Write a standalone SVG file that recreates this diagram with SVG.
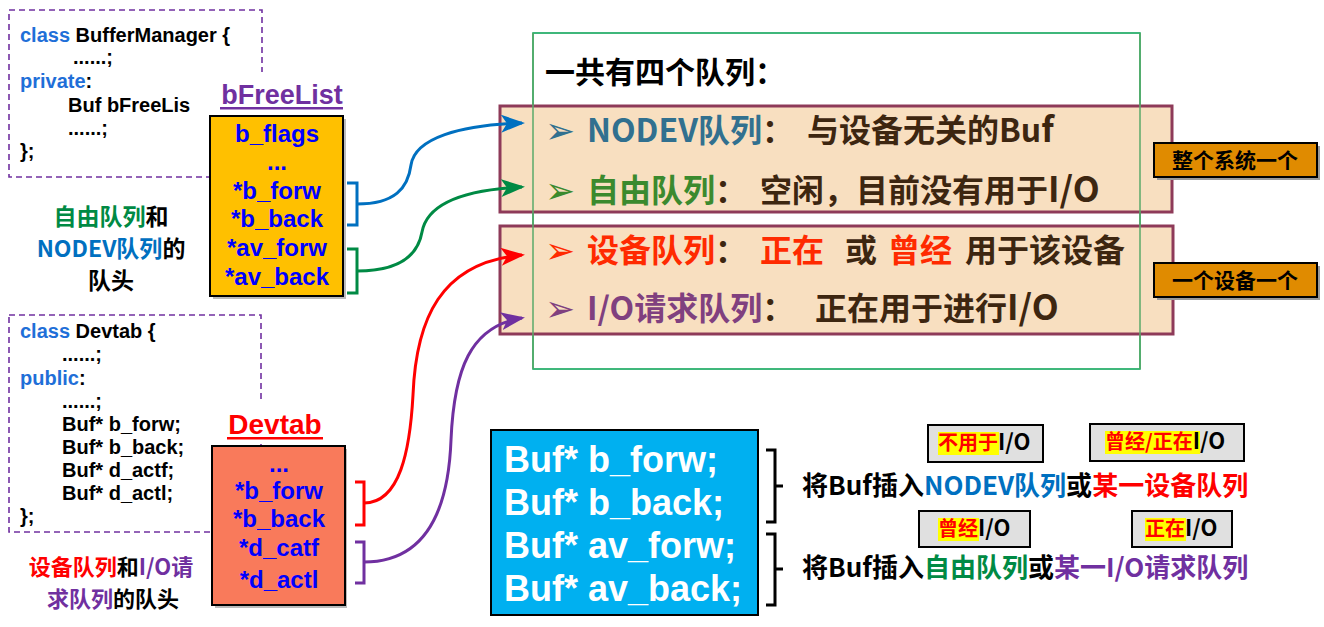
<svg xmlns="http://www.w3.org/2000/svg" width="1324" height="627" viewBox="0 0 1324 627">
<style>
.code{font-family:"Liberation Sans",Arial,sans-serif;font-weight:bold;font-size:20px;fill:#000}
.kw{fill:#1F6FD8}
.field{font-family:"Liberation Sans",Arial,sans-serif;font-weight:bold;font-size:24px;fill:#0000FF;text-anchor:middle}
.cjk{font-family:"Noto Sans CJK SC",sans-serif;font-weight:bold}
.dash{fill:none;stroke:#7030A0;stroke-width:1.6;stroke-dasharray:6 4}
.tan{fill:#F8DFC0;stroke:#8E3A59;stroke-width:3}
.bullet{font-family:"DejaVu Sans",sans-serif;font-size:36px;font-weight:normal}
.lab{fill:#E08B00;stroke:#000;stroke-width:2}
.gray{fill:#E0E0E0;stroke:#000;stroke-width:2}
.hl{fill:#FFFF00}
.conn{fill:none;stroke-width:3}
.br{fill:none;stroke-width:3}
</style>
<defs>
<marker id="ab" markerWidth="8" markerHeight="6" refX="7" refY="3" orient="auto" markerUnits="strokeWidth"><path d="M0,0 L8,3 L0,6 L2,3 Z" fill="#0070C0"/></marker>
<marker id="ag" markerWidth="8" markerHeight="6" refX="7" refY="3" orient="auto" markerUnits="strokeWidth"><path d="M0,0 L8,3 L0,6 L2,3 Z" fill="#008A44"/></marker>
<marker id="ar" markerWidth="8" markerHeight="6" refX="7" refY="3" orient="auto" markerUnits="strokeWidth"><path d="M0,0 L8,3 L0,6 L2,3 Z" fill="#FF0000"/></marker>
<marker id="ap" markerWidth="8" markerHeight="6" refX="7" refY="3" orient="auto" markerUnits="strokeWidth"><path d="M0,0 L8,3 L0,6 L2,3 Z" fill="#7030A0"/></marker>
</defs>
<rect width="1324" height="627" fill="#fff"/>

<g id="buffermanager-code">
<rect class="dash" x="9" y="10" width="253" height="167"/>
<text class="code" x="20" y="42"><tspan class="kw">class</tspan> BufferManager {</text>
<text class="code" x="73" y="64">......;</text>
<text class="code" x="20" y="88"><tspan class="kw">private</tspan>:</text>
<text class="code" x="68" y="112">Buf bFreeLis</text>
<text class="code" x="68" y="135">......;</text>
<text class="code" x="20" y="158">};</text>
</g>

<g id="bfreelist">
<rect x="214" y="72" width="136" height="42" fill="#fff"/>
<text x="282" y="104" text-anchor="middle" font-family="Liberation Sans,Arial,sans-serif" font-weight="bold" font-size="27" fill="#7030A0">bFreeList</text>
<rect x="220" y="107" width="123" height="2.5" fill="#7030A0"/>
<rect x="213" y="119" width="133" height="180" fill="#bbb"/>
<rect x="210" y="116" width="133" height="180" fill="#FFC000" stroke="#000" stroke-width="2"/>
<text class="field" x="277" y="142">b_flags</text>
<text class="field" x="277" y="170">...</text>
<text class="field" x="277" y="199">*b_forw</text>
<text class="field" x="277" y="227">*b_back</text>
<text class="field" x="277" y="256">*av_forw</text>
<text class="field" x="277" y="285">*av_back</text>
</g>

<g id="label-free-head" class="cjk" font-size="23" text-anchor="middle">
<text x="111" y="225"><tspan fill="#008A44">自由队列</tspan><tspan fill="#000">和</tspan></text>
<text x="111" y="257"><tspan fill="#0070C0">NODEV队列</tspan><tspan fill="#000">的</tspan></text>
<text x="111" y="289" fill="#000">队头</text>
</g>

<g id="devtab-code">
<rect class="dash" x="9" y="315" width="252" height="217"/>
<text class="code" x="20" y="338"><tspan class="kw">class</tspan> Devtab {</text>
<text class="code" x="62" y="361">......;</text>
<text class="code" x="20" y="385"><tspan class="kw">public</tspan>:</text>
<text class="code" x="62" y="408">......;</text>
<text class="code" x="62" y="431">Buf* b_forw;</text>
<text class="code" x="62" y="454">Buf* b_back;</text>
<text class="code" x="62" y="477">Buf* d_actf;</text>
<text class="code" x="62" y="500">Buf* d_actl;</text>
<text class="code" x="20" y="523">};</text>
</g>

<g id="devtab">
<rect x="212" y="402" width="136" height="42" fill="#fff"/>
<text x="275" y="434" text-anchor="middle" font-family="Liberation Sans,Arial,sans-serif" font-weight="bold" font-size="28" fill="#FF0000">Devtab</text>
<rect x="227" y="437" width="96" height="2.5" fill="#FF0000"/>
<rect x="215" y="449" width="132" height="159" fill="#bbb"/>
<rect x="212" y="446" width="133" height="159" fill="#F97A5B" stroke="#000" stroke-width="2"/>
<text class="field" x="279" y="472">...</text>
<text class="field" x="279" y="499">*b_forw</text>
<text class="field" x="279" y="527">*b_back</text>
<text class="field" x="279" y="556">*d_catf</text>
<text class="field" x="279" y="588">*d_actl</text>
</g>

<g id="label-dev-head" class="cjk" font-size="22" text-anchor="middle">
<text x="111" y="575"><tspan fill="#FF0000">设备队列</tspan><tspan fill="#000">和</tspan><tspan fill="#7030A0">I/O请</tspan></text>
<text x="113" y="607"><tspan fill="#7030A0">求队列</tspan><tspan fill="#000">的队头</tspan></text>
</g>

<g id="queues">
<rect x="533" y="33" width="607" height="336" fill="none" stroke="#00A050" stroke-width="1.5"/>
<rect class="tan" x="500" y="106" width="672" height="106"/>
<rect class="tan" x="500" y="226" width="673" height="108"/>
<line x1="533" y1="33" x2="533" y2="369" stroke="#5BAA6A" stroke-width="1.5"/>
<line x1="1140" y1="33" x2="1140" y2="369" stroke="#5BAA6A" stroke-width="1.5"/>
<text class="cjk" x="545" y="83" font-size="30" fill="#000">一共有四个队列：</text>
<g class="cjk" font-size="32" fill="#3D2610">
<text x="545" y="143" class="bullet" fill="#31708F">➢</text>
<text x="587" y="142"><tspan fill="#31708F">NODEV队列</tspan>：</text>
<text x="807" y="142">与设备无关的Bu<tspan font-size="34">f</tspan></text>
<text x="545" y="203" class="bullet" fill="#3B8A2E">➢</text>
<text x="587" y="202"><tspan fill="#3B8A2E">自由队列</tspan>：</text>
<text x="760" y="202">空闲，目前没有用于<tspan font-size="35">I/O</tspan></text>
<text x="545" y="263" class="bullet" fill="#FF2A00">➢</text>
<text x="587" y="262"><tspan fill="#FF2A00">设备队列</tspan>：</text>
<text x="760" y="262" fill="#FF2A00">正在</text>
<text x="845" y="262">或</text>
<text x="888" y="262" fill="#FF2A00">曾经</text>
<text x="965" y="262">用于该设备</text>
<text x="545" y="321" class="bullet" fill="#80407F">➢</text>
<text x="587" y="320"><tspan fill="#80407F">I/O请求队列</tspan>：</text>
<text x="815" y="320">正在用于进行<tspan font-size="35">I/O</tspan></text>
</g>
</g>

<g id="label-system">
<rect x="1157" y="146" width="163" height="34" fill="#999"/>
<rect class="lab" x="1154" y="143" width="163" height="34"/>
<text class="cjk" x="1235" y="168" font-size="21" text-anchor="middle" fill="#000">整个系统一个</text>
</g>
<g id="label-device">
<rect x="1157" y="266" width="163" height="34" fill="#999"/>
<rect class="lab" x="1154" y="263" width="163" height="34"/>
<text class="cjk" x="1235" y="288" font-size="21" text-anchor="middle" fill="#000">一个设备一个</text>
</g>

<g id="buf-fields">
<rect x="491" y="430" width="267" height="185" fill="#00B0F0" stroke="#000" stroke-width="2"/>
<g font-family="Liberation Sans,Arial,sans-serif" font-weight="bold" font-size="36" fill="#fff">
<text x="504" y="472">Buf* b_forw;</text>
<text x="504" y="515">Buf* b_back;</text>
<text x="504" y="558">Buf* av_forw;</text>
<text x="504" y="601">Buf* av_back;</text>
</g>
<path class="br" stroke="#000" stroke-width="2" d="M766,450 H775 V522 H766 M775,486 H783"/>
<path class="br" stroke="#000" stroke-width="2" d="M766,534 H775 V605 H766 M775,569 H783"/>
</g>

<g id="insert-nodev">
<text class="cjk" x="802" y="495" font-size="26" fill="#000">将Buf插入<tspan fill="#0070C0">NODEV队列</tspan>或<tspan fill="#FF0000">某一设备队列</tspan></text>
</g>
<g id="insert-free">
<text class="cjk" x="802" y="577" font-size="26" fill="#000">将Buf插入<tspan fill="#008A44">自由队列</tspan>或<tspan fill="#7030A0">某一I/O请求队列</tspan></text>
</g>

<g id="tag-nouse">
<rect class="gray" x="928" y="425" width="115" height="37"/>
<rect class="hl" x="938" y="432" width="61" height="23"/>
<text class="cjk" x="938" y="450" font-size="20"><tspan fill="#FF0000">不用于</tspan><tspan fill="#000" font-size="22">I/O</tspan></text>
</g>
<g id="tag-was-is">
<rect class="gray" x="1090" y="424" width="154" height="37"/>
<rect class="hl" x="1105" y="431" width="95" height="23"/>
<text class="cjk" x="1105" y="449" font-size="20"><tspan fill="#FF0000">曾经/正在</tspan><tspan fill="#000" font-size="22">I/O</tspan></text>
</g>
<g id="tag-was">
<rect class="gray" x="919" y="511" width="111" height="36"/>
<rect class="hl" x="938" y="518" width="41" height="23"/>
<text class="cjk" x="938" y="536" font-size="20"><tspan fill="#FF0000">曾经</tspan><tspan fill="#000" font-size="22">I/O</tspan></text>
</g>
<g id="tag-is">
<rect class="gray" x="1132" y="511" width="100" height="36"/>
<rect class="hl" x="1145" y="518" width="41" height="23"/>
<text class="cjk" x="1145" y="536" font-size="20"><tspan fill="#FF0000">正在</tspan><tspan fill="#000" font-size="22">I/O</tspan></text>
</g>

<g id="connectors">
<path class="br" stroke="#0070C0" d="M347,183 H357 V225 H347"/>
<path class="br" stroke="#008A44" d="M347,249 H357 V293 H347"/>
<path class="br" stroke="#FF0000" d="M355,482 H364 V525 H355"/>
<path class="br" stroke="#7030A0" d="M355,542 H364 V583 H355"/>
<path class="conn" stroke="#0070C0" marker-end="url(#ab)" d="M357,204 C395,204 408,188 411,165 C415,138 460,125 522,123"/>
<path class="conn" stroke="#008A44" marker-end="url(#ag)" d="M357,271 C400,271 418,255 422,232 C427,205 460,190 522,187"/>
<path class="conn" stroke="#FF0000" marker-end="url(#ar)" d="M364,503 C400,503 410,450 413,395 C416,320 440,262 522,255"/>
<path class="conn" stroke="#7030A0" marker-end="url(#ap)" d="M364,562 C420,562 448,520 451,440 C454,370 470,326 522,318"/>
</g>
</svg>
